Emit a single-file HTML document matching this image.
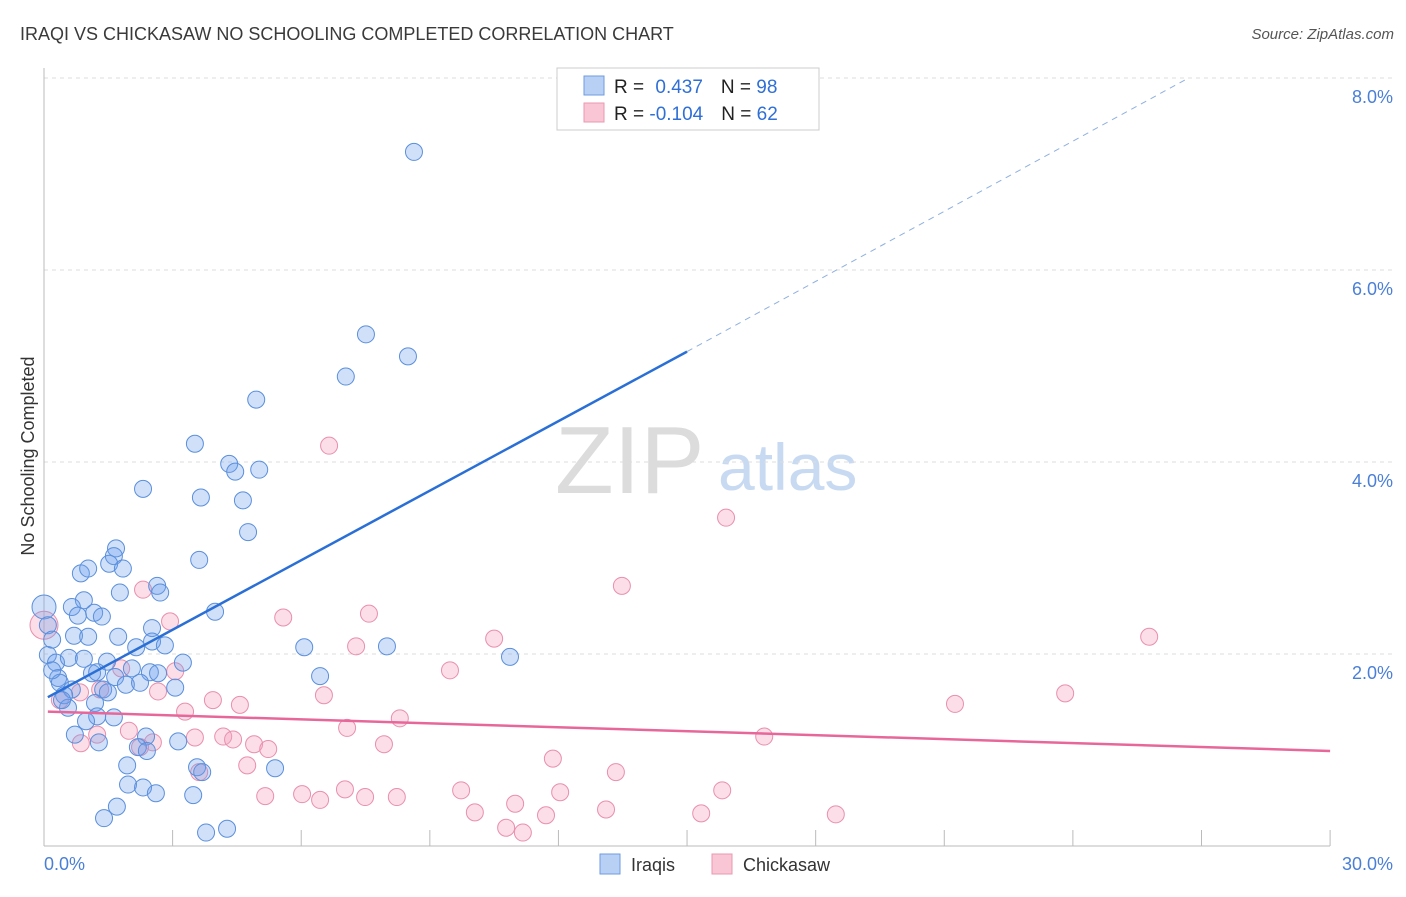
<!DOCTYPE html>
<html><head><meta charset="utf-8"><style>
body{margin:0;background:#fff;font-family:"Liberation Sans",sans-serif}
svg text{font-family:"Liberation Sans",sans-serif}
</style></head><body>
<svg id="chart" width="1406" height="892">
<text x="20" y="40" font-size="18" fill="#3a3a3a">IRAQI VS CHICKASAW NO SCHOOLING COMPLETED CORRELATION CHART</text>
<text x="1394" y="39" font-size="15" fill="#555" font-style="italic" text-anchor="end">Source: ZipAtlas.com</text>
<text x="555" y="493" font-size="96" fill="#dcdcdc" font-family="Liberation Serif,serif">ZIP</text>
<text x="718" y="490" font-size="66" fill="#c8daf2">atlas</text>
<text transform="translate(34,456) rotate(-90)" font-size="18" fill="#333" text-anchor="middle">No Schooling Completed</text>
<g id="grid"></g><g id="pts"></g><g id="trend"></g>
<g>
<rect x="557" y="68" width="262" height="62" fill="#fff" stroke="#ccc"/>
<rect x="584" y="76" width="20" height="19" fill="#b8d0f3" stroke="#6f9be0"/>
<rect x="584" y="103" width="20" height="19" fill="#f9c6d5" stroke="#ea98b2"/>
<text x="614" y="93" font-size="19" fill="#222">R = <tspan fill="#2f6fd6" dx="6">0.437</tspan><tspan dx="18" fill="#222">N = </tspan><tspan fill="#2f6fd6">98</tspan></text>
<text x="614" y="120" font-size="19" fill="#222">R = <tspan fill="#2f6fd6">-0.104</tspan><tspan dx="18" fill="#222">N = </tspan><tspan fill="#2f6fd6">62</tspan></text>
</g>
<g>
<rect x="600" y="854" width="20" height="20" fill="#b8d0f3" stroke="#6f9be0"/>
<text x="631" y="871" font-size="18" fill="#333">Iraqis</text>
<rect x="712" y="854" width="20" height="20" fill="#f9c6d5" stroke="#ea98b2"/>
<text x="743" y="871" font-size="18" fill="#333">Chickasaw</text>
</g>
</svg>
<script>
const yTicks=[2,4,6,8];
const xTickLabels=["0.0%","30.0%"];
const blueX=[8.63,7.51,8.49,7.04,4.95,3.52,4.32,5.02,4.46,2.31,3.66,4.64,4.76,1.68,1.63,3.62,1.52,1.84,0.86,1.03,2.64,2.71,1.77,0.93,0.65,0.0,1.17,1.35,0.79,3.99,2.52,0.09,0.70,1.03,1.73,2.52,2.82,2.15,6.07,8.00,10.87,0.09,0.28,0.58,0.93,1.47,3.24,2.05,2.47,2.66,1.12,1.24,0.33,0.37,6.44,1.66,1.91,2.24,1.38,0.65,3.06,1.49,0.47,1.19,0.56,1.24,1.63,0.98,0.72,1.28,2.38,3.13,2.19,2.40,3.57,3.69,5.39,1.94,1.96,2.31,2.61,3.48,1.70,1.40,3.78,4.27,0.42,0.19,0.19];
const blueY=[7.23,5.33,5.10,4.89,4.65,4.19,3.98,3.92,3.90,3.72,3.63,3.60,3.27,3.10,3.02,2.98,2.94,2.89,2.84,2.89,2.71,2.64,2.64,2.56,2.49,2.49,2.43,2.39,2.40,2.44,2.27,2.30,2.19,2.18,2.18,2.13,2.09,2.07,2.07,2.08,1.97,1.99,1.91,1.96,1.95,1.92,1.91,1.85,1.81,1.80,1.80,1.81,1.75,1.70,1.77,1.76,1.68,1.70,1.63,1.63,1.65,1.60,1.57,1.49,1.44,1.35,1.34,1.30,1.16,1.08,1.14,1.09,1.03,0.99,0.82,0.77,0.81,0.84,0.64,0.61,0.55,0.53,0.41,0.29,0.14,0.18,1.52,1.83,2.15];
const pinkX=[6.65,15.91,13.48,2.31,2.94,5.58,7.58,0.0,7.28,10.50,25.78,9.47,3.06,1.80,23.82,6.53,2.66,3.94,4.57,3.29,8.30,21.25,0.37,0.84,1.31,7.07,1.98,4.18,4.41,3.52,2.54,1.24,0.86,4.90,5.23,7.93,16.80,2.24,11.87,4.74,13.34,3.62,9.73,12.04,15.82,5.16,6.02,6.44,7.02,7.49,8.23,10.05,10.99,11.71,13.11,15.33,18.47,10.78,11.17];
const pinkY=[4.17,3.42,2.71,2.67,2.34,2.38,2.42,2.30,2.08,2.16,2.18,1.83,1.82,1.85,1.59,1.57,1.61,1.52,1.47,1.40,1.33,1.48,1.52,1.60,1.63,1.23,1.20,1.14,1.11,1.13,1.08,1.16,1.07,1.06,1.01,1.06,1.14,1.03,0.91,0.84,0.77,0.77,0.58,0.56,0.58,0.52,0.54,0.48,0.59,0.51,0.51,0.35,0.44,0.32,0.38,0.34,0.33,0.19,0.14];
const blueTrend=[0.09,1.55,15.0,5.15,26.7,8.0];
const pinkTrend=[0.09,1.40,30,0.99];
const NS="http://www.w3.org/2000/svg";
const X=v=>44+v*42.87, Y=v=>846-v*96;
function mk(t,a,p){const e=document.createElementNS(NS,t);for(const k in a)e.setAttribute(k,a[k]);p.appendChild(e);return e;}
const g=document.getElementById('grid');
yTicks.forEach(t=>{
 const l=mk('line',{x1:44,x2:1395,y1:Y(t),y2:Y(t),stroke:'#ddd','stroke-dasharray':'4,4'},g);
 
 
 const tx=mk('text',{x:1393,y:Y(t)+25,'font-size':18,fill:'#4a7fd6','text-anchor':'end'},g);tx.textContent=t.toFixed(1)+'%';
 
 
});
mk('line',{x1:44,x2:44,y1:68,y2:846,stroke:'#bbb'},g);
mk('line',{x1:44,x2:1330,y1:846,y2:846,stroke:'#bbb'},g);
for(let i=0;i<=10;i++){const l=mk('line',{x1:X(i*3),x2:X(i*3),y1:830,y2:846,stroke:'#bbb'},g);
 
 }
const xl0=mk('text',{x:44,y:870,'font-size':18,fill:'#4a7fd6'},g);xl0.textContent=xTickLabels[0];


const xl1=mk('text',{x:1393,y:870,'font-size':18,fill:'#4a7fd6','text-anchor':'end'},g);xl1.textContent=xTickLabels[1];


const p=document.getElementById('pts');
pinkX.forEach((x,i)=>{const c=mk('circle',{cx:X(x),cy:Y(pinkY[i]),r:i==7?14:8.5,fill:'rgba(243,160,188,0.35)',stroke:'#e98fad','stroke-width':1},p);
 
 });
blueX.forEach((x,i)=>{const c=mk('circle',{cx:X(x),cy:Y(blueY[i]),r:i==25?12:8.5,fill:'rgba(110,160,235,0.32)',stroke:'#5a8fdc','stroke-width':1},p);
 
 });
const t=document.getElementById('trend');
const b1=mk('line',{x1:X(blueTrend[0]),y1:Y(blueTrend[1]),x2:X(blueTrend[2]),y2:Y(blueTrend[3]),stroke:'#2a6fd6','stroke-width':2.5},t);


const b2=mk('line',{x1:X(blueTrend[2]),y1:Y(blueTrend[3]),x2:X(blueTrend[4]),y2:Y(blueTrend[5]),stroke:'#8fb0e0','stroke-width':1,'stroke-dasharray':'6,5'},t);


const pk=mk('line',{x1:X(pinkTrend[0]),y1:Y(pinkTrend[1]),x2:X(pinkTrend[2]),y2:Y(pinkTrend[3]),stroke:'#e8679a','stroke-width':2.5},t);


</script>
</body></html>
